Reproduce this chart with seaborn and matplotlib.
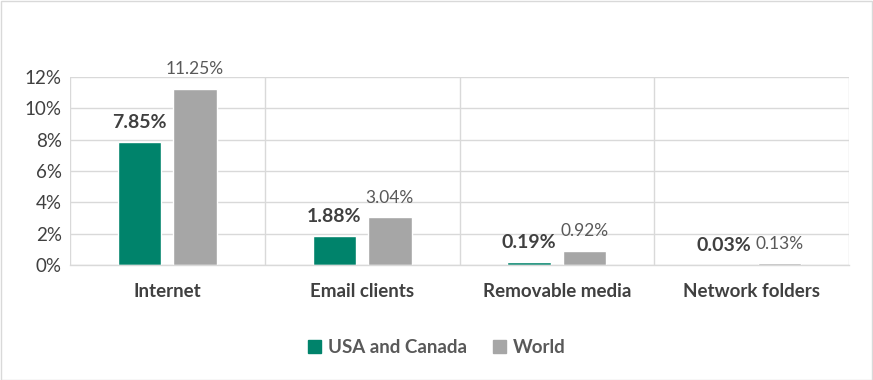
import matplotlib
matplotlib.use("Agg")
import matplotlib.pyplot as plt
import seaborn as sns
import pandas as pd
from matplotlib.ticker import PercentFormatter, FixedLocator
from matplotlib.patches import Rectangle

# data
categories = ["Internet", "Email clients", "Removable media", "Network folders"]
usa_canada = [7.85, 1.88, 0.19, 0.03]
world = [11.25, 3.04, 0.92, 0.13]
series = ["USA and Canada", "World"]

df = pd.DataFrame({
    "category": categories * 2,
    "value": usa_canada + world,
    "series": [series[0]] * len(categories) + [series[1]] * len(categories),
})

sns.set_theme(style="white")
plt.rcParams["font.family"] = ["Lato", "DejaVu Sans"]

green = "#00836B"
grey = "#A6A6A6"
text_dark = "#404040"
text_mid = "#595959"
grid_col = "#D9D9D9"

fig = plt.figure(figsize=(8.73, 3.80), dpi=100)
ax = fig.add_axes([0.0802, 0.3026, 0.8923, 0.4947])

sns.barplot(data=df, x="category", y="value", hue="series",
            palette=[green, grey], width=0.57, gap=0.22, ax=ax,
            legend=False, saturation=1, errorbar=None)

ax.set_ylim(0, 12)
ax.set_xlim(-0.5, len(categories) - 0.5)
ax.yaxis.set_major_formatter(PercentFormatter(decimals=0))
ax.set_yticks(range(0, 13, 2))
ax.xaxis.set_minor_locator(FixedLocator([i - 0.5 for i in range(len(categories) + 1)]))
ax.grid(axis="y", which="major", color=grid_col, linewidth=1)
ax.grid(axis="x", which="minor", color=grid_col, linewidth=1)
ax.set_axisbelow(True)
for side in ["top", "right", "left"]:
    ax.spines[side].set_visible(False)
ax.spines["bottom"].set_color(grid_col)
ax.spines["bottom"].set_linewidth(1)

ax.set_xlabel("")
ax.set_ylabel("")
ax.tick_params(axis="y", labelsize=13.5, colors=text_dark, length=0, pad=6)
ax.tick_params(axis="x", which="both", length=0, pad=13)
for lbl in ax.get_xticklabels():
    lbl.set_fontsize(13.5)
    lbl.set_fontweight("bold")
    lbl.set_color(text_dark)

# value labels
for bar, v in zip(ax.containers[0], usa_canada):
    ax.annotate(f"{v:.2f}%", (bar.get_x() + bar.get_width() / 2, bar.get_height()),
                xytext=(0, 14), textcoords="offset points", ha="center", va="center",
                fontsize=14, fontweight="bold", color=text_dark)
for bar, v in zip(ax.containers[1], world):
    ax.annotate(f"{v:.2f}%", (bar.get_x() + bar.get_width() / 2, bar.get_height()),
                xytext=(0, 14), textcoords="offset points", ha="center", va="center",
                fontsize=12.5, color=text_mid)

handles = [Rectangle((0, 0), 1, 1, color=green), Rectangle((0, 0), 1, 1, color=grey)]
leg = fig.legend(handles, series, loc="center", bbox_to_anchor=(0.5, 0.085), ncol=2,
                 frameon=False, handlelength=0.7, handleheight=0.7,
                 handletextpad=0.35, columnspacing=1.4,
                 prop={"size": 13.5, "weight": "bold"})
for t in leg.get_texts():
    t.set_color(text_mid)

fig.patches.append(Rectangle((0.001, 0.001), 0.998, 0.996, transform=fig.transFigure,
                             fill=False, edgecolor="#D9D9D9", linewidth=1))

fig.savefig("out.png", dpi=100)
